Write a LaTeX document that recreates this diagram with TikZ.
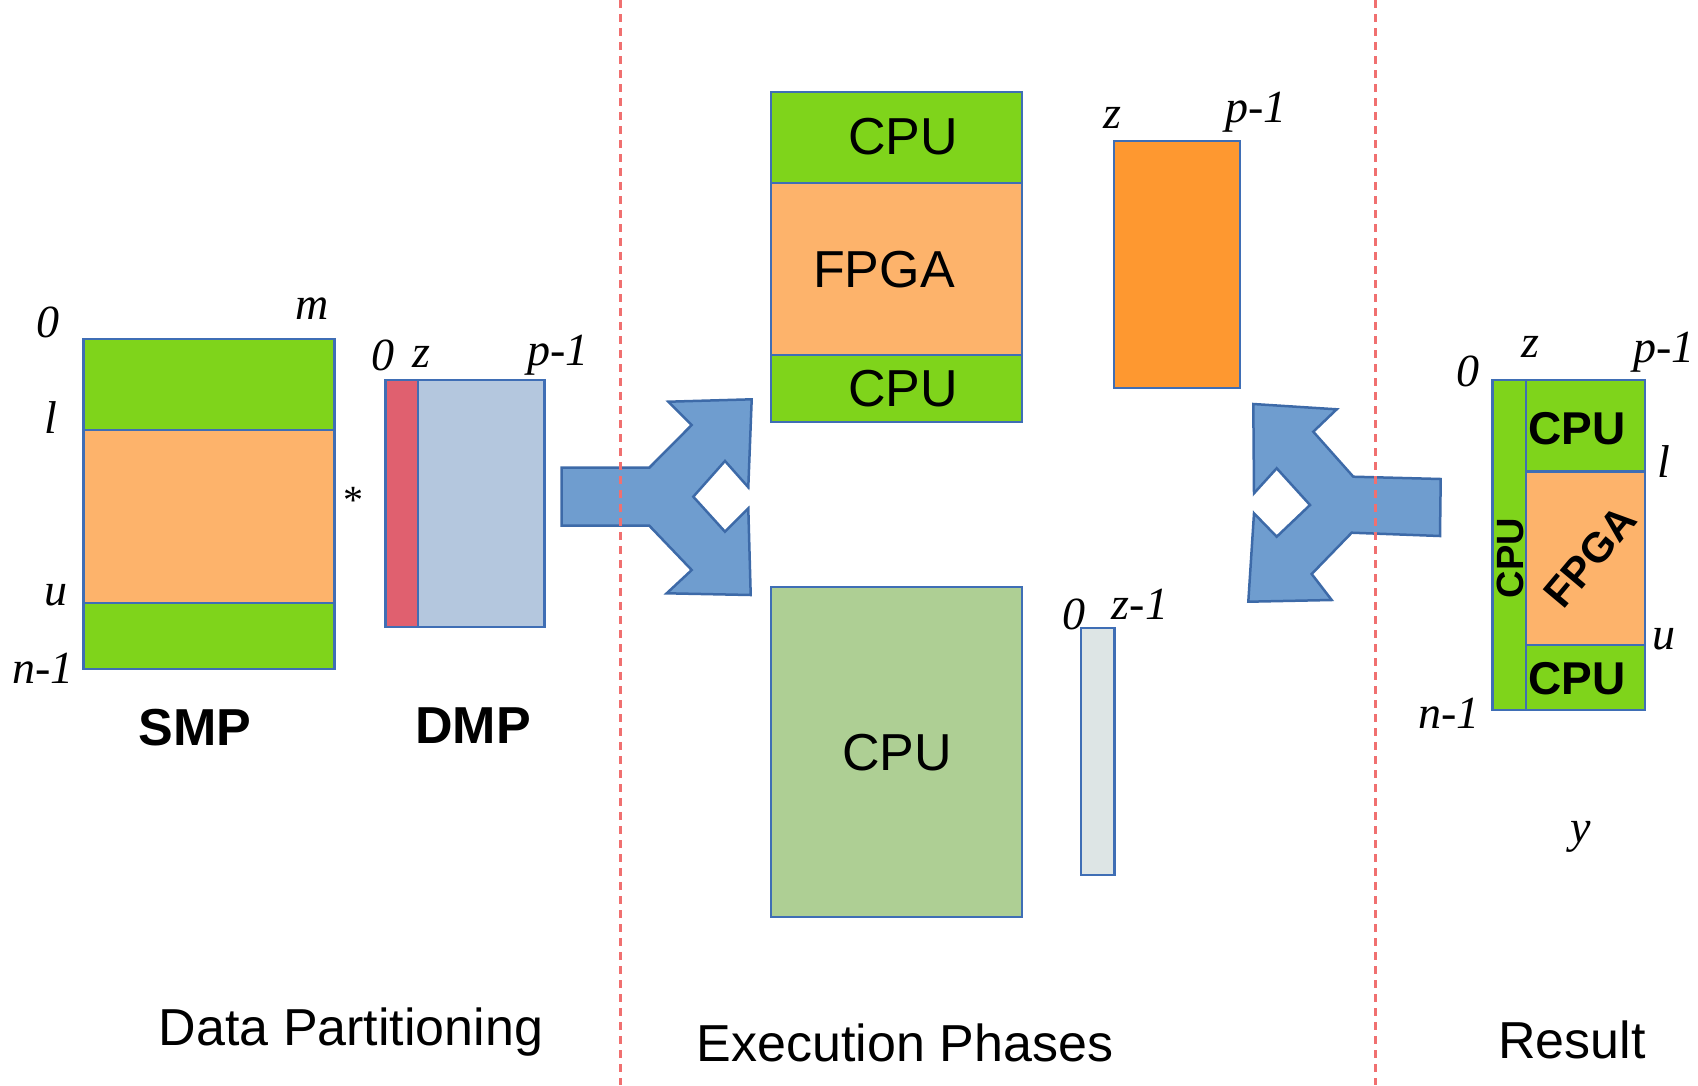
\documentclass[tikz,border=0pt]{standalone}
\usepackage{fontspec}
\setmainfont{Liberation Serif}
\newfontfamily\arial{Liberation Sans}
\definecolor{bordc}{HTML}{3F6EB5}
\definecolor{grn}{HTML}{7FD41B}
\definecolor{lorange}{HTML}{FDB36B}
\definecolor{sorange}{HTML}{FE9830}
\definecolor{lblue}{HTML}{B4C7DE}
\definecolor{redstrip}{HTML}{E0606F}
\definecolor{lgreen}{HTML}{AECF94}
\definecolor{lgray}{HTML}{DDE5E5}
\definecolor{arrowfill}{HTML}{6F9DCF}
\definecolor{arrowdraw}{HTML}{3D6AA8}
\definecolor{sepred}{HTML}{F07070}
\begin{document}
\begin{tikzpicture}[x=1pt,y=-1pt,
  box/.style={draw=bordc, line width=2.5pt, inner sep=0pt, outer sep=0pt, anchor=north west},
  lab/.style={font=\fontsize{46}{50}\selectfont\itshape, inner sep=0pt},
  sans/.style={font=\arial\fontsize{52}{60}\selectfont, inner sep=0pt},
  bsans/.style={font=\arial\bfseries\fontsize{52}{60}\selectfont, inner sep=0pt},
  rsans/.style={font=\arial\bfseries\fontsize{46}{50}\selectfont, inner sep=0pt},
  splitarrow/.style={fill=arrowfill, draw=arrowdraw, line width=2.5pt, line join=miter},
  sepline/.style={draw=sepred, line width=2.5pt, dash pattern=on 8pt off 6pt}]
\useasboundingbox (0,0) rectangle (1698,1085);

% ---------- Data partitioning ----------
\node[box, fill=grn, minimum width=251.2pt, minimum height=90.9pt] (smptop) at (83.4,339) {};
\node[box, fill=lorange, minimum width=251.2pt, minimum height=173.3pt] (smpmid) at (83.4,429.9) {};
\node[box, fill=grn, minimum width=251.2pt, minimum height=66pt] (smpbot) at (83.4,603.2) {};
\node[box, fill=lblue, minimum width=159.2pt, minimum height=247pt] (dmp) at (385.5,380) {};
\node[box, fill=redstrip, minimum width=32.5pt, minimum height=247pt] (dmpz) at (385.5,380) {};

\node[lab] (s0) at (47.6,322.7) {0};
\node[lab] (sm) at (311.9,308.6) {m};
\node[lab] (sl) at (50.9,418) {l};
\node[lab] (su) at (56.3,595.6) {u};
\node[lab] (sn) at (43.3,668) {n-1};
\node[font=\fontsize{40}{44}\selectfont, inner sep=0pt] (star) at (353,500) {*};
\node[lab] (d0) at (383.3,355.2) {0};
\node[lab] (dz) at (421,357.4) {z};
\node[lab] (dp) at (557.7,355.2) {p-1};
\node[bsans] (smplab) at (195,727.7) {SMP};
\node[bsans] (dmplab) at (473.2,725.5) {DMP};

% ---------- Execution phases ----------
\node[box, fill=grn, minimum width=251.2pt, minimum height=91pt] (mcpu1) at (771,92) {};
\node[box, fill=lorange, minimum width=251.2pt, minimum height=172pt] (mfpga) at (771,183) {};
\node[box, fill=grn, minimum width=251.2pt, minimum height=67pt] (mcpu2) at (771,355) {};
\node[sans] (t1) at (903,137) {CPU};
\node[sans] (t2) at (884,270) {FPGA};
\node[sans] (t3) at (903,389) {CPU};

\node[box, fill=lgreen, minimum width=251.2pt, minimum height=330pt] (mcpu3) at (771,587) {};
\node[sans] (t4) at (897,753) {CPU};

\node[box, fill=sorange, minimum width=126pt, minimum height=247pt] (ores) at (1114,141) {};
\node[lab] (oz) at (1112,118) {z};
\node[lab] (op) at (1256,112) {p-1};

\node[box, fill=lgray, minimum width=33.3pt, minimum height=247pt] (gres) at (1081,628) {};
\node[lab] (g0) at (1074,614) {0};
\node[lab] (gz) at (1140,604) {z-1};

% ---------- Result ----------
\node[box, fill=grn, minimum width=152.3pt, minimum height=330pt] (rall) at (1492.7,380) {};
\node[box, fill=grn, minimum width=119pt, minimum height=91.7pt] (rtop) at (1526,380) {};
\node[box, fill=lorange, minimum width=119pt, minimum height=173.3pt] (rmid) at (1526,471.7) {};
\node[box, fill=grn, minimum width=119pt, minimum height=65pt] (rbot) at (1526,645) {};
\node[rsans] (rt1) at (1577,429) {CPU};
\node[rsans] (rt3) at (1577,679) {CPU};
\node[font=\arial\bfseries\fontsize{42}{46}\selectfont, inner sep=0pt, rotate=50] (rt2) at (1590,557) {FPGA};
\node[font=\arial\bfseries\fontsize{38}{42}\selectfont, inner sep=0pt, rotate=90] (rt4) at (1510,558) {CPU};
\node[lab] (r0) at (1468,371) {0};
\node[lab] (rz) at (1530,347) {z};
\node[lab] (rp) at (1664,352) {p-1};
\node[lab] (rl) at (1664,462) {l};
\node[lab] (ru) at (1664,639) {u};
\node[lab] (rn) at (1449,713) {n-1};
\node[lab] (ry) at (1581,837) {y};

% ---------- split arrows ----------
\draw[splitarrow] (561.7,467.7) -- (649.3,467.7) -- (691.7,425) -- (668.3,401.7)
  -- (751.7,399.3) -- (748.3,487.3) -- (725,461) -- (693.3,496.7) -- (725,531.7)
  -- (748.3,508.3) -- (750.7,595) -- (666.7,593.3) -- (691.7,570) -- (649.3,525.7)
  -- (561.7,525.7) -- cycle;
\draw[splitarrow] (1440.7,479) -- (1353.3,476.7) -- (1313.3,431.7) -- (1336.7,409.3)
  -- (1253.3,404) -- (1254,493.3) -- (1276.7,468.3) -- (1310,505) -- (1276.7,536.7)
  -- (1254,513.3) -- (1248.3,601.7) -- (1331.7,600) -- (1311.7,574) -- (1351.7,532.7)
  -- (1440,536) -- cycle;

% ---------- bottom captions ----------
\node[sans] (c1) at (351,1032) {Data Partitioning};
\node[sans] (c2) at (905,1043) {Execution Phases};
\node[sans] (c3) at (1572,1040) {Result};

% ---------- separators ----------
\coordinate (sa1) at (620.5,0);
\coordinate (sa2) at (620.5,1085);
\coordinate (sb1) at (1375.3,0);
\coordinate (sb2) at (1375.3,1085);
\draw[sepline] (sa1) -- (sa2);
\draw[sepline] (sb1) -- (sb2);
\end{tikzpicture}
\end{document}
